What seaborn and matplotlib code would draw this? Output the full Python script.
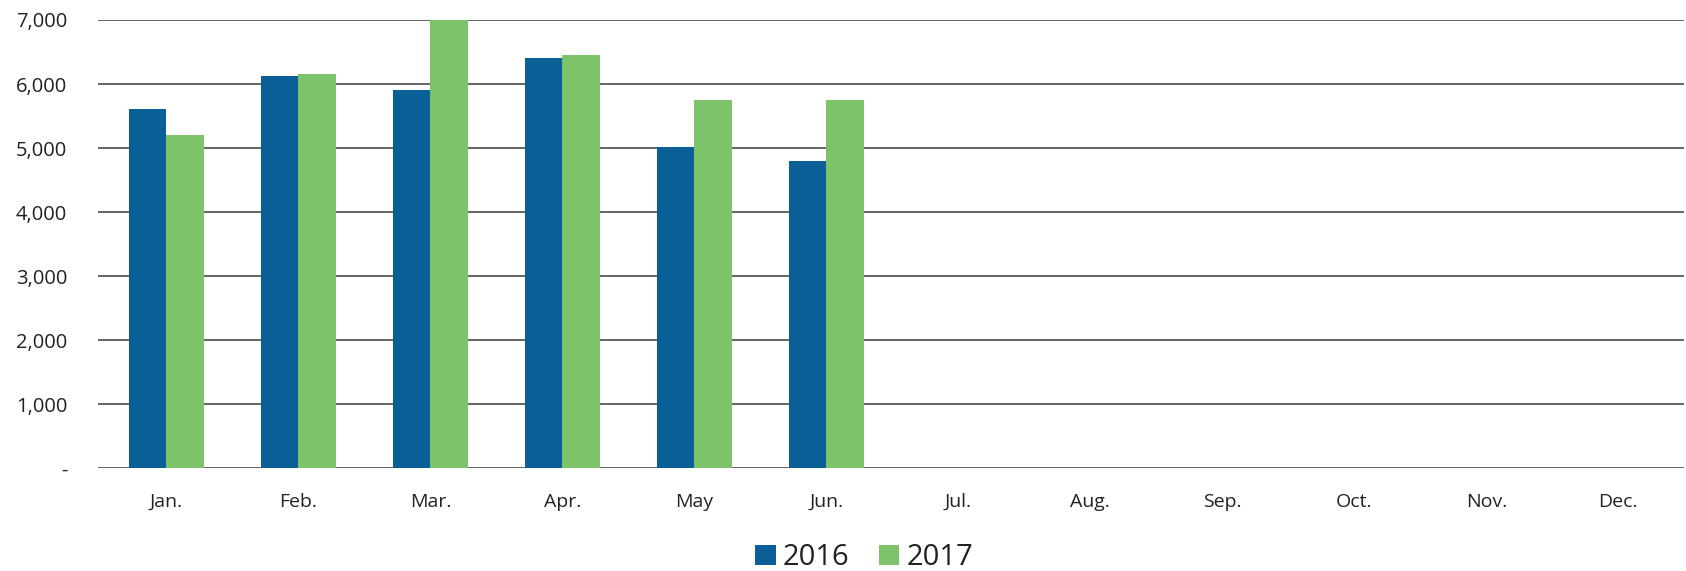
import pandas as pd
import numpy as np
import matplotlib
matplotlib.use('Agg')
import matplotlib.pyplot as plt
import seaborn as sns

months = ['Jan.', 'Feb.', 'Mar.', 'Apr.', 'May', 'Jun.', 'Jul.', 'Aug.', 'Sep.', 'Oct.', 'Nov.', 'Dec.']
vals_2016 = [5610, 6120, 5910, 6400, 5020, 4790]
vals_2017 = [5210, 6150, 7000, 6450, 5750, 5750]
years = ['2016', '2017']
colors = ['#0a5f96', '#7cc36a']

df = pd.DataFrame({
    'month': months[:len(vals_2016)] * 2,
    'value': vals_2016 + vals_2017,
    'year': [years[0]] * len(vals_2016) + [years[1]] * len(vals_2017),
})

sns.set_theme(style='white')
plt.rcParams['font.family'] = ['Open Sans', 'DejaVu Sans']

fig = plt.figure(figsize=(16.86, 5.71), dpi=100)
ax = fig.add_axes([0.058, 0.18, 0.941, 0.785])

sns.barplot(data=df, x='month', y='value', hue='year', order=months,
            palette=colors, width=0.57, saturation=1, linewidth=0, ax=ax)

ax.set_xlim(-0.52, 11.5)
ax.set_ylim(0, 7000)
ax.set_yticks(range(0, 7001, 1000))
ax.set_yticklabels(['-'] + [f'{v:,}' for v in range(1000, 7001, 1000)])
ax.yaxis.grid(True, color='#3a3a3a', linewidth=1.1)
ax.set_axisbelow(True)
for s in ax.spines.values():
    s.set_visible(False)
ax.tick_params(axis='y', length=0, pad=22, labelsize=14.5, labelcolor='#222222')
ax.tick_params(axis='x', length=0, pad=18, labelsize=14, labelcolor='#222222')
ax.set_xlabel('')
ax.set_ylabel('')

ax.legend(loc='lower center', bbox_to_anchor=(0.483, -0.29), ncol=2, frameon=False,
          fontsize=21, handlelength=0.7, handleheight=0.7, handletextpad=0.25,
          columnspacing=1.0, labelcolor='#222222')

plt.savefig('out.png', dpi=100)
plt.close()
